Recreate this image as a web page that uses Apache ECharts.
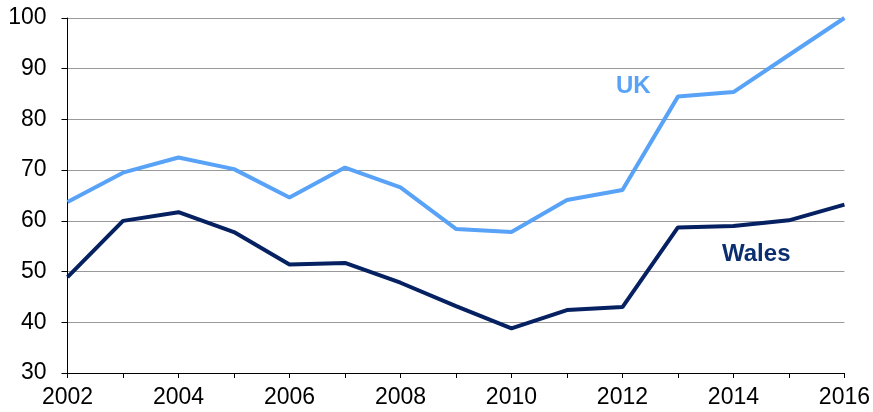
<!DOCTYPE html>
<html>
<head>
<meta charset="utf-8">
<script src="https://cdn.jsdelivr.net/npm/echarts@6/dist/echarts.min.js"></script>
<style>html,body{margin:0;padding:0;background:#fff}#c{width:873px;height:412px}</style>
</head>
<body>
<div id="c"></div>
<script>
const years = ['2002','2003','2004','2005','2006','2007','2008','2009','2010','2011','2012','2013','2014','2015','2016'];
const ukValues = [63.7, 69.5, 72.5, 70.2, 64.6, 70.5, 66.6, 58.4, 57.8, 64.1, 66.1, 84.5, 85.4, 92.7, 100];
const walesValues = [48.9, 60.0, 61.7, 57.8, 51.4, 51.7, 47.8, 43.2, 38.8, 42.4, 43.0, 58.7, 59.0, 60.1, 63.2];
const yTicks = {min: 30, max: 100, interval: 10};

const chart = echarts.init(document.getElementById('c'), null, {renderer: 'canvas'});
const font = 'Liberation Sans, Arial, sans-serif';
chart.setOption({
  animation: false,
  grid: {left: 67.5, right: 28, top: 18, bottom: 39, containLabel: false},
  xAxis: {
    type: 'category', data: years, boundaryGap: false,
    axisLine: {lineStyle: {color: '#000', width: 1}},
    axisTick: {show: true, interval: 0, length: 5, lineStyle: {color: '#000'}},
    axisLabel: {interval: 1, color: '#000', fontSize: 23, fontFamily: font, margin: 13},
    splitLine: {show: false}
  },
  yAxis: {
    type: 'value', min: yTicks.min, max: yTicks.max, interval: yTicks.interval,
    axisLine: {show: true, lineStyle: {color: '#000', width: 1}},
    axisTick: {show: true, length: 6, lineStyle: {color: '#000'}},
    axisLabel: {color: '#000', fontSize: 23, fontFamily: font, margin: 21},
    splitLine: {show: true, lineStyle: {color: '#999', width: 1}}
  },
  series: [
    {name: 'UK', type: 'line', data: ukValues, symbol: 'none', lineStyle: {color: '#58a2f7', width: 4}, z: 3},
    {name: 'Wales', type: 'line', data: walesValues, symbol: 'none', lineStyle: {color: '#052161', width: 4}, z: 4}
  ],
  graphic: [
    {type: 'text', left: 616, top: 74, style: {text: 'UK', fill: '#58a2f7', font: 'bold 24px ' + font}},
    {type: 'text', left: 722, top: 242, style: {text: 'Wales', fill: '#0b2f6e', font: 'bold 24px ' + font}}
  ]
});
</script>
</body>
</html>
